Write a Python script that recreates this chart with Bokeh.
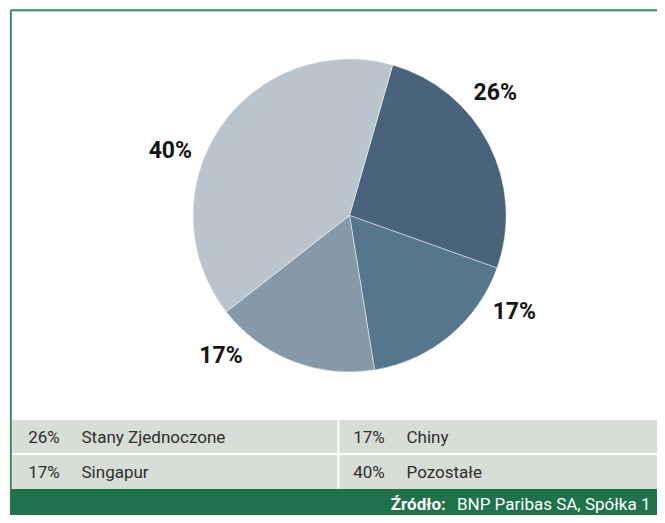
import math
from bokeh.plotting import figure
from bokeh.models import Range1d, ColumnDataSource
from bokeh.core.properties import value
from bokeh.embed import file_html
from bokeh.resources import INLINE

# ---- data ----
countries = ["Stany Zjednoczone", "Chiny", "Singapur", "Pozostałe"]
shares = [26, 17, 17, 40]
pct_labels = ["26%", "17%", "17%", "40%"]
source_bold = "Źródło:"
source_text = "BNP Paribas SA, Spółka 1"

# ---- styles ----
colors = ["#48637a", "#56768c", "#8599a8", "#b9c4cd"]
start_cw_deg = 16.0          # first slice starts 16° clockwise from 12 o'clock
label_shift_deg = [-13, -20, 21, -14]
label_radius = 193
FONT = "Roboto"

W, H = 657, 515          # figure size in pixels
RW, RH = 665, 523        # layout coordinate space


def X(sx):
    return sx


def Y(sy):
    return RH - sy


p = figure(width=W, height=H, output_backend="svg", toolbar_location=None,
           x_range=Range1d(0, RW), y_range=Range1d(0, RH),
           min_border=0, outline_line_color=None, background_fill_color="white")
p.axis.visible = False
p.grid.visible = False

# frame border
p.quad(left=[X(10.5)], right=[X(700)], bottom=[Y(530)], top=[Y(10)],
       fill_color=None, line_color="#3a8c62", line_width=2)

# ---- pie ----
cx, cy, r = X(353.3), Y(218.3), 158.5
total = float(sum(shares))
starts, ends, mids = [], [], []
acc = start_cw_deg
for s in shares:
    a0 = acc
    a1 = acc + s / total * 360.0
    starts.append(math.radians(90 - a1))
    ends.append(math.radians(90 - a0))
    mids.append((a0 + a1) / 2)
    acc = a1

src = ColumnDataSource(dict(start=starts, end=ends, color=colors))
p.wedge(x=cx, y=cy, radius=r, start_angle="start", end_angle="end",
        fill_color="color", line_color="white", line_alpha=0.6, line_width=0.8,
        source=src)

lx, ly = [], []
for m, sh in zip(mids, label_shift_deg):
    a = math.radians(m + sh)
    lx.append(cx + label_radius * math.sin(a))
    ly.append(cy + label_radius * math.cos(a))
p.text(x=lx, y=ly, text=pct_labels, text_font=value(FONT), text_font_size="23px",
       text_font_style="bold", text_color="#151515", text_align="center",
       text_baseline="middle")

# ---- legend table ----
p.quad(left=[X(12)], right=[X(700)], bottom=[Y(496)], top=[Y(426)],
       fill_color="#d9ddd7", line_color=None)
p.segment(x0=[X(12)], y0=[Y(460.5)], x1=[X(700)], y1=[Y(460.5)],
          line_color="white", line_width=2)
p.segment(x0=[X(342)], y0=[Y(426)], x1=[X(342)], y1=[Y(496)],
          line_color="white", line_width=2)

col_x = [28, 357]
row_y = [443, 478.5]
tx_p, tx_n, ty = [], [], []
for i in range(len(countries)):
    c, rr = i % 2, i // 2
    tx_p.append(X(col_x[c]))
    tx_n.append(X(col_x[c] + 54))
    ty.append(Y(row_y[rr]))
p.text(x=tx_p, y=ty, text=pct_labels, text_font=value(FONT), text_font_size="17px",
       text_color="#2e2e2e", text_align="left", text_baseline="middle")
p.text(x=tx_n, y=ty, text=countries, text_font=value(FONT), text_font_size="17px",
       text_color="#2e2e2e", text_align="left", text_baseline="middle")

# ---- footer ----
p.quad(left=[X(10)], right=[X(700)], bottom=[Y(540)], top=[Y(496)],
       fill_color="#1f7249", line_color=None)
p.text(x=[X(395)], y=[Y(511)], text=[source_bold], text_font=value(FONT),
       text_font_size="17px", text_font_style="bold", text_color="white",
       text_align="left", text_baseline="middle")
p.text(x=[X(462)], y=[Y(511)], text=[source_text], text_font=value(FONT),
       text_font_size="17px", text_color="white",
       text_align="left", text_baseline="middle")

open("out.html", "w").write(file_html(p, INLINE))
